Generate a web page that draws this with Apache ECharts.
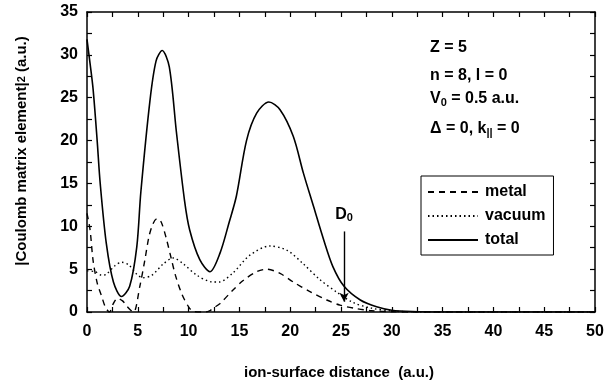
<!DOCTYPE html>
<html>
<head>
<meta charset="utf-8">
<script src="https://cdn.jsdelivr.net/npm/echarts@6/dist/echarts.min.js"></script>
<style>
  html, body { margin: 0; padding: 0; background: #fff; }
  #chart { width: 615px; height: 385px; }
</style>
</head>
<body>
<div id="chart"></div>
<script>
// values
const totalX = [0, 0.3, 0.6, 1.0, 1.3, 1.9, 2.6, 3.4, 4.2, 4.9, 5.3, 6.2, 6.8, 7.4, 8.1, 8.8, 9.6, 10.1, 11.1, 12.1, 13.1, 14.0, 14.7, 15.7, 16.7, 17.9, 19.0, 20.3, 21.3, 22.3, 23.3, 24.2, 25.3, 26.9, 28.5, 30, 32, 35, 50];
const totalY = [31.8, 29, 26, 20, 15, 8, 3.5, 1.8, 3.0, 7.6, 14, 24.7, 29.3, 30.5, 28.6, 21, 13, 9.6, 6.1, 4.7, 6.9, 10.5, 13.5, 20, 23.2, 24.5, 23.6, 20.5, 16.2, 12.3, 8.4, 5.3, 3.0, 1.4, 0.6, 0.2, 0.05, 0, 0];

const metalX = [0, 0.3, 0.6, 1.0, 1.45, 1.8, 2.2, 2.6, 3.0, 3.5, 3.9, 4.3, 4.6, 5.2, 5.7, 6.1, 6.5, 6.9, 7.3, 7.8, 8.3, 8.7, 9.3, 10, 10.5, 11.5, 12, 12.5, 13.1, 14.4, 15.4, 16.7, 17.7, 19, 20.3, 21.9, 23.6, 24.9, 26.5, 28, 30, 32, 50];
const metalY = [11.5, 9.6, 6.0, 3.4, 1.8, 0.6, 0, 1.0, 1.6, 1.3, 0.7, 0.2, 0, 3, 6.1, 8.8, 10.3, 10.9, 10.5, 8.6, 6.2, 4.3, 2.2, 0.6, 0.05, 0, 0.1, 0.5, 1.0, 2.6, 3.7, 4.7, 5.0, 4.5, 3.5, 2.4, 1.4, 0.8, 0.4, 0.15, 0.03, 0, 0];

const vacuumX = [0, 0.8, 1.45, 1.9, 2.75, 3.4, 4.1, 4.9, 5.5, 6.4, 7.5, 8.5, 9.5, 10.8, 12.4, 13.0, 14.4, 16.0, 18.0, 19.7, 21.3, 22.9, 24.6, 26.2, 28, 30, 32, 35, 50];
const vacuumY = [4.8, 4.7, 4.3, 4.4, 5.4, 5.8, 5.5, 4.4, 4.0, 4.3, 5.6, 6.3, 5.6, 4.3, 3.5, 3.5, 4.6, 6.6, 7.7, 7.2, 5.6, 3.8, 2.3, 1.1, 0.45, 0.12, 0.02, 0, 0];

const seriesNames = ["metal", "vacuum", "total"];
const d0X = 25.3;
const d0Y = [9.4, 1.2];
const notes = ["Z = 5", "n = 8, l = 0", "V{s|0} = 0.5 a.u.", "Δ = 0, k{s|||} = 0"];

const FONT = "Liberation Sans";

const pairs = (xs, ys) => xs.map((x, i) => [x, ys[i]]);

const chart = echarts.init(document.getElementById("chart"));

const axisCommon = {
  type: "value",
  axisLine: { show: true, onZero: false, lineStyle: { color: "#000", width: 1.5 } },
  axisTick: { show: true, inside: true, length: 5, lineStyle: { color: "#000", width: 1.2 } },
  splitLine: { show: false },
};

const labelStyle = {
  color: "#000",
  fontFamily: FONT,
  fontWeight: "bold",
  fontSize: 16,
};

const option = {
  animation: false,
  backgroundColor: "#fff",
  grid: { left: 87, right: 20, top: 12, bottom: 73 },
  xAxis: [
    {
      ...axisCommon,
      min: 0, max: 50, interval: 2.5,
      axisLabel: { ...labelStyle, margin: 12, formatter: (v) => (v % 5 === 0 ? String(v) : "") },
    },
    {
      ...axisCommon,
      position: "top",
      min: 0, max: 50, interval: 2.5,
      axisLabel: { show: false },
    },
  ],
  yAxis: [
    {
      ...axisCommon,
      min: 0, max: 35, interval: 2.5,
      axisLabel: { ...labelStyle, margin: 9, formatter: (v) => (v % 5 === 0 ? String(v) : "") },
    },
    {
      ...axisCommon,
      position: "right",
      min: 0, max: 35, interval: 2.5,
      axisLabel: { show: false },
    },
  ],
  legend: {
    data: seriesNames,
    orient: "vertical",
    left: 421,
    top: 176,
    padding: [8, 8, 7, 6],
    itemGap: 8,
    itemWidth: 50,
    itemHeight: 14,
    borderColor: "#000",
    borderWidth: 1,
    itemStyle: { opacity: 0 },
    textStyle: { ...labelStyle, fontSize: 16, padding: [0, 0, 0, 2] },
  },
  series: [
    {
      name: "metal",
      type: "line",
      data: pairs(metalX, metalY),
      smooth: 0.3,
      symbol: "none",
      lineStyle: { color: "#000", width: 1.4, type: [6, 5] },
      itemStyle: { color: "#000" },
    },
    {
      name: "vacuum",
      type: "line",
      data: pairs(vacuumX, vacuumY),
      smooth: 0.3,
      symbol: "none",
      lineStyle: { color: "#000", width: 1.4, type: [1.5, 3] },
      itemStyle: { color: "#000" },
    },
    {
      name: "total",
      type: "line",
      data: pairs(totalX, totalY),
      smooth: 0.3,
      symbol: "none",
      lineStyle: { color: "#000", width: 1.6 },
      itemStyle: { color: "#000" },
      markLine: {
        silent: true,
        symbol: ["none", "arrow"],
        symbolSize: [7, 9],
        lineStyle: { color: "#000", width: 1.4, type: "solid" },
        label: {
          show: true,
          position: "start",
          distance: 8,
          formatter: "D{s|0}",
          ...labelStyle,
          fontSize: 16,
          rich: { s: { fontFamily: FONT, fontWeight: "bold", fontSize: 11, padding: [7, 0, 0, 0] } },
        },
        data: [[{ coord: [d0X, d0Y[0]] }, { coord: [d0X, d0Y[1]] }]],
      },
    },
  ],
  graphic: [
    ...notes.map((t, i) => ({
      type: "text",
      left: 430,
      top: [40, 68, 91, 121][i],
      style: {
        text: t,
        fill: "#000",
        font: "bold 16px " + FONT,
        rich: { s: { fontFamily: FONT, fontWeight: "bold", fontSize: 11, padding: [7, 0, 0, 0] } },
      },
    })),
    {
      type: "text",
      x: 22,
      y: 151,
      rotation: Math.PI / 2,
      style: {
        text: "|Coulomb matrix element|{s|2} (a.u.)",
        fill: "#000",
        font: "bold 15px " + FONT,
        align: "center",
        verticalAlign: "middle",
        rich: { s: { fontFamily: FONT, fontWeight: "bold", fontSize: 11 } },
      },
    },
    {
      type: "text",
      x: 339,
      y: 373,
      style: {
        text: "ion-surface distance  (a.u.)",
        fill: "#000",
        font: "bold 15px " + FONT,
        align: "center",
        verticalAlign: "middle",
      },
    },
  ],
};

chart.setOption(option);
</script>
</body>
</html>
